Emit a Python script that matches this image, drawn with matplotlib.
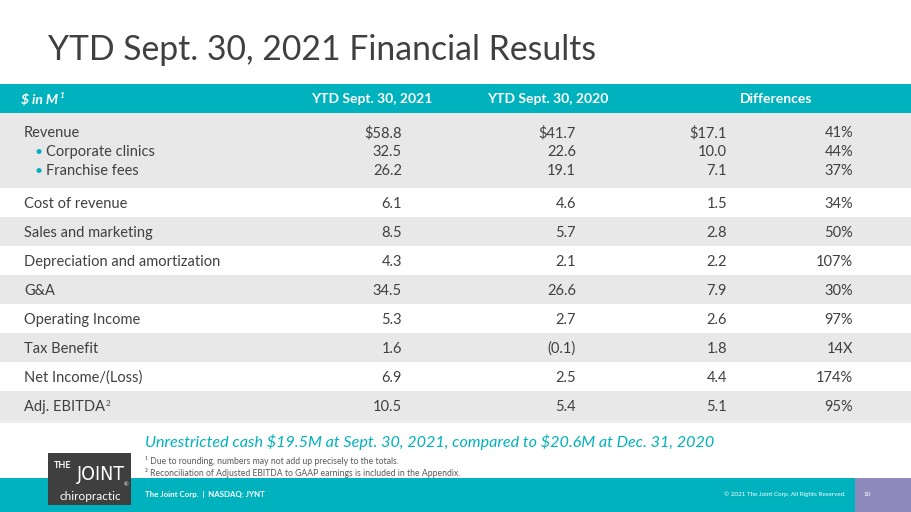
import matplotlib
matplotlib.use("Agg")
import matplotlib.pyplot as plt
from matplotlib.patches import Rectangle

plt.rcParams['font.family'] = ['Lato', 'DejaVu Sans']
plt.rcParams['text.parse_math'] = False

# table data
headers = ["YTD Sept. 30, 2021", "YTD Sept. 30, 2020", "Differences"]
labels = ["Revenue", "Corporate clinics", "Franchise fees", "Cost of revenue",
          "Sales and marketing", "Depreciation and amortization", "G&A",
          "Operating Income", "Tax Benefit", "Net Income/(Loss)", "Adj. EBITDA"]
bullet = [False, True, True, False, False, False, False, False, False, False, False]
ytd_2021 = ["$58.8", "32.5", "26.2", "6.1", "8.5", "4.3", "34.5", "5.3", "1.6", "6.9", "10.5"]
ytd_2020 = ["$41.7", "22.6", "19.1", "4.6", "5.7", "2.1", "26.6", "2.7", "(0.1)", "2.5", "5.4"]
diff_abs = ["$17.1", "10.0", "7.1", "1.5", "2.8", "2.2", "7.9", "2.6", "1.8", "4.4", "5.1"]
diff_pct = ["41%", "44%", "37%", "34%", "50%", "107%", "30%", "97%", "14X", "174%", "95%"]

teal = "#00B2BD"
grey = "#E8E8E8"
txt = "#404040"

fig = plt.figure(figsize=(9.11, 5.12), dpi=100)
ax = fig.add_axes([0, 0, 1, 1])
ax.set_xlim(0, 911)
ax.set_ylim(512, 0)
ax.axis("off")
renderer = fig.canvas.get_renderer()


def right_edge(t):
    bb = t.get_window_extent(renderer=renderer)
    return bb.x1  # pixels == data x here


# title
ax.text(48, 50, "YTD Sept. 30, 2021 Financial Results", fontsize=24.3, color=txt,
        va="center", ha="left")

# header band
ax.add_patch(Rectangle((0, 84), 911, 29, color=teal, lw=0))
t = ax.text(21, 99, "$ in M", fontsize=10, color="white", fontweight="bold",
            style="italic", va="center")
ax.text(right_edge(t) + 1, 95, "1", fontsize=6, color="white", fontweight="bold",
        style="italic", va="center")
head_x = [372, 548, 776]
for hx, h in zip(head_x, headers):
    ax.text(hx, 99, h, fontsize=10, color="white", fontweight="bold", ha="center", va="center")

# row bands (revenue group, then single rows)
bands = [(113, 75)]
y0 = 188
for i in range(8):
    bands.append((y0 + i * 29, 29))
for i, (by, bh) in enumerate(bands):
    if i % 2 == 0:
        ax.add_patch(Rectangle((0, by), 911, bh, color=grey, lw=0))
ax.add_patch(Rectangle((0, 420), 911, 3, color="#EDEDED", lw=0))

row_y = [133, 152, 171, 204, 233, 262, 291, 320, 349, 378, 407]
col_x = [402, 576, 727, 853]
for i, lab in enumerate(labels):
    y = row_y[i]
    if bullet[i]:
        ax.text(35, y, "\u2022", fontsize=10, color=teal, va="center")
        t = ax.text(46, y, lab, fontsize=10.5, color=txt, va="center")
    else:
        t = ax.text(24, y, lab, fontsize=10.5, color=txt, va="center")
    if lab == "Adj. EBITDA":
        ax.text(right_edge(t) + 1, y - 4, "2", fontsize=6, color=txt, va="center")
    for cx, vals in zip(col_x, [ytd_2021, ytd_2020, diff_abs, diff_pct]):
        ax.text(cx, y, vals[i], fontsize=10.5, color=txt, va="center", ha="right")

# cash note and footnotes
ax.text(145, 442, "Unrestricted cash $19.5M at Sept. 30, 2021, compared to $20.6M at Dec. 31, 2020",
        fontsize=11.6, color=teal, style="italic", va="center")
ax.text(145, 461, "\u00b9 Due to rounding, numbers may not add up precisely to the totals.",
        fontsize=6.2, color="#595959", va="center")
ax.text(145, 473, "\u00b2 Reconciliation of Adjusted EBITDA to GAAP earnings is included in the Appendix.",
        fontsize=6.2, color="#595959", va="center")

# footer
ax.add_patch(Rectangle((0, 478), 911, 34, color=teal, lw=0))
ax.add_patch(Rectangle((855, 478), 56, 34, color="#8E8BBC", lw=0))
ax.text(145, 494, "The Joint Corp.  |  NASDAQ: JYNT", fontsize=5.7, color="white",
        fontweight="bold", va="center")
ax.text(846, 494, "\u00a9 2021 The Joint Corp. All Rights Reserved.", fontsize=4.5,
        color="white", va="center", ha="right")
ax.text(863, 494, "10", fontsize=4.5, color="white", va="center")

# logo
ax.add_patch(Rectangle((48, 453), 83, 52, color="#3F3F3F", lw=0))
ax.text(54, 466, "THE", fontsize=6.5, color="white", va="center", fontweight="bold")
ax.text(77, 474, "JOINT", fontsize=14, color="white", va="center", family="DejaVu Sans",
        fontweight="light", stretch="condensed")
ax.text(124, 485, "\u00ae", fontsize=4, color="white", va="center")
ax.text(90, 496, "chiropractic", fontsize=8.5, color="white", va="center", ha="center")

fig.savefig("out.png", dpi=100)
